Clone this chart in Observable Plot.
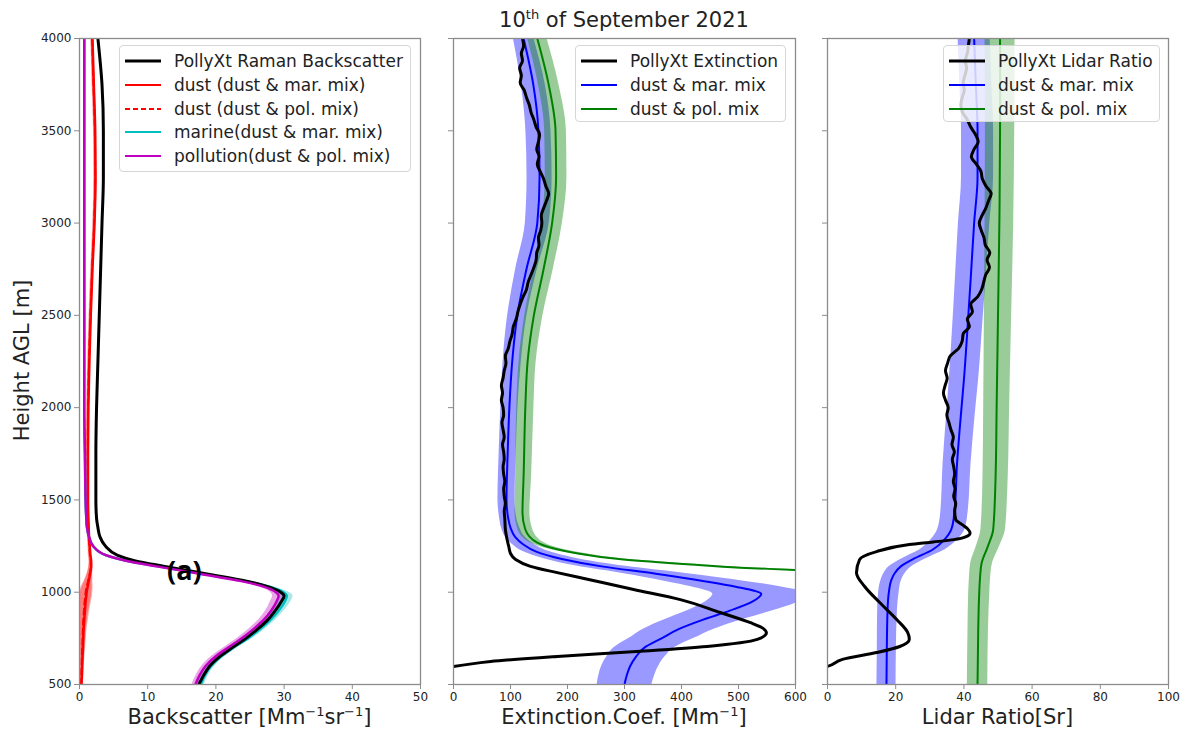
<!DOCTYPE html>
<html>
<head>
<meta charset="utf-8">
<script src="https://cdn.jsdelivr.net/npm/d3@7"></script>
<script src="https://cdn.jsdelivr.net/npm/@observablehq/plot@0.6"></script>
<style>
  html, body { margin: 0; padding: 0; background: #fff; }
  body { position: relative; width: 1186px; height: 731px; overflow: hidden; font-family: "DejaVu Sans", sans-serif; color: #222; }
  .panel { position: absolute; top: 0; }
  .panel svg { display: block; }
  .lbl { position: absolute; white-space: nowrap; text-align: center; color: #222; line-height: 21px; }
  .lbl sup { font-size: 13px; vertical-align: baseline; position: relative; top: -8px; line-height: 0; }
  .legend { position: absolute; border: 1px solid #d6d6d6; border-radius: 4px; background: rgba(255,255,255,0.8); box-sizing: border-box; }
  .legend .row { position: absolute; left: 0; height: 20px; display: flex; align-items: center; font-size: 17px; white-space: nowrap; }
  .legend svg { display: block; }
</style>
</head>
<body>
<div id="p1" class="panel" style="left:0;width:440px"></div>
<div id="p2" class="panel" style="left:440px;width:370px"></div>
<div id="p3" class="panel" style="left:810px;width:376px"></div>

<div class="lbl" style="left:453px;width:342px;top:10px;font-size:21px;">10<sup>th</sup> of September 2021</div>
<div class="lbl" style="left:-70px;top:350px;width:185px;font-size:21px;transform:rotate(-90deg);">Height AGL [m]</div>
<div class="lbl" style="left:79px;width:341px;top:707px;font-size:21px;">Backscatter [Mm<sup>−1</sup>sr<sup>−1</sup>]</div>
<div class="lbl" style="left:453px;width:342px;top:707px;font-size:21px;">Extinction.Coef. [Mm<sup>−1</sup>]</div>
<div class="lbl" style="left:827px;width:341px;top:707px;font-size:21px;">Lidar Ratio[Sr]</div>
<div class="lbl" style="left:167px;top:556px;font-size:27px;line-height:27px;font-weight:bold;font-family:'Open Sans',sans-serif;color:#000;">(a)</div>

<script>
// ---- Backscatter profiles (Mm-1 sr-1) ----
const bscHeights = [500, 550, 600, 650, 700, 750, 800, 850, 900, 950, 980, 1000, 1030, 1060, 1100, 1140, 1170, 1200, 1250, 1300, 1350, 1400, 1500, 1750, 2000, 2250, 2500, 2750, 3000, 3250, 3500, 3750, 4000];
const bscRaman     = [17.5, 18.2, 19.1, 20.5, 22.4, 24.4, 26.1, 27.6, 28.7, 29.6, 30.0, 29.5, 27.6, 24.5, 18.5, 12.5, 8.2, 5.6, 3.8, 3.0, 2.7, 2.5, 2.4, 2.4, 2.5, 2.7, 2.9, 3.1, 3.3, 3.5, 3.5, 3.3, 2.7];
const bscDustMar   = [0.3, 0.35, 0.4, 0.45, 0.5, 0.55, 0.6, 0.7, 0.8, 0.9, 1.0, 1.05, 1.2, 1.35, 1.55, 1.7, 1.7, 1.6, 1.5, 1.4, 1.35, 1.3, 1.25, 1.25, 1.3, 1.45, 1.65, 1.9, 2.2, 2.35, 2.3, 2.1, 1.9];
const bscDustPol   = [0.2, 0.25, 0.3, 0.35, 0.4, 0.45, 0.5, 0.55, 0.65, 0.75, 0.85, 0.9, 1.05, 1.25, 1.5, 1.65, 1.65, 1.55, 1.45, 1.35, 1.3, 1.25, 1.2, 1.2, 1.25, 1.4, 1.6, 1.85, 2.15, 2.3, 2.25, 2.05, 1.85];
const bscMarine    = [17.8, 18.4, 19.3, 20.7, 22.6, 24.7, 26.5, 28.0, 29.2, 30.1, 30.4, 29.9, 27.8, 24.3, 18.0, 11.5, 6.9, 3.9, 2.0, 1.4, 1.1, 1.0, 0.9, 0.8, 0.7, 0.7, 0.7, 0.7, 0.7, 0.7, 0.7, 0.7, 0.7];
const bscPollution = [17.0, 17.6, 18.5, 19.9, 21.8, 23.8, 25.5, 27.0, 28.1, 28.9, 29.2, 28.8, 27.0, 23.7, 17.6, 11.3, 6.8, 3.9, 2.0, 1.4, 1.1, 1.0, 0.9, 0.8, 0.7, 0.7, 0.7, 0.7, 0.7, 0.7, 0.7, 0.7, 0.7];
const bscDustErr   = [0.25, 0.3, 0.3, 0.35, 0.4, 0.45, 0.5, 0.6, 0.7, 0.85, 0.9, 0.9, 0.8, 0.6, 0.4, 0.3, 0.25, 0.25, 0.2, 0.2, 0.2, 0.2, 0.2, 0.2, 0.2, 0.2, 0.2, 0.2, 0.2, 0.2, 0.2, 0.2, 0.2];
const bscMixErr    = [0.5, 0.5, 0.55, 0.6, 0.6, 0.65, 0.7, 0.75, 0.8, 0.9, 0.9, 0.8, 0.7, 0.6, 0.5, 0.4, 0.3, 0.2, 0.1, 0.1, 0.1, 0.1, 0.1, 0.1, 0.1, 0.1, 0.1, 0.1, 0.1, 0.1, 0.1, 0.1, 0.1];

// ---- Extinction profiles (Mm-1) ----
const extMarHeights = [500, 550, 600, 650, 700, 750, 800, 850, 900, 950, 990, 1030, 1060, 1100, 1140, 1180, 1220, 1260, 1300, 1350, 1400, 1500, 1750, 2000, 2250, 2500, 2750, 3000, 3250, 3500, 3750, 4000];
const extDustMar    = [300, 304, 310, 320, 335, 365, 395, 437, 485, 525, 540, 495, 440, 355, 260, 190, 145, 122, 108, 100, 96, 93, 95, 98, 103, 112, 128, 147, 151, 149, 140, 123];
const extDustMarErr = [48, 49, 50, 51, 53, 57, 62, 68, 75, 82, 85, 78, 70, 56, 42, 30, 23, 19, 17, 16, 15, 15, 15, 15, 16, 17, 19, 21, 22, 22, 21, 18];
const extPolHeights = [1100, 1120, 1133, 1150, 1177, 1214, 1268, 1340, 1430, 1630, 2000, 2250, 2500, 2750, 3000, 3250, 3500, 3750, 4000];
const extDustPol    = [700, 600, 503, 416, 298, 211, 147, 126, 121, 123, 126, 130, 141, 158, 173, 180, 179, 167, 147];
const extDustPolErr = [12, 12, 12, 12, 12, 12, 12, 13, 13, 14, 15, 15, 16, 17, 18, 19, 19, 18, 17];
const extPollyHeights = [580, 598, 625, 652, 680, 706, 744, 780, 810, 835, 890, 960, 1015, 1070, 1106, 1140, 1177, 1210, 1247, 1300, 1340,
  1400, 1440, 1480, 1520, 1560, 1600, 1640, 1680, 1720, 1760, 1800, 1840, 1880, 1920, 1960, 2000, 2040, 2080, 2120, 2160,
  2200, 2240, 2280, 2320, 2360, 2400, 2440, 2480, 2520, 2560, 2600, 2640, 2680, 2720, 2760, 2800, 2840, 2880, 2920, 2960,
  3000, 3040, 3080, 3120, 3160, 3200, 3240, 3280, 3320, 3360, 3400, 3440, 3480, 3520, 3560, 3600, 3640, 3680, 3720, 3760,
  3800, 3840, 3880, 3920, 3960, 4000];
const extPolly = [-60, 0, 65, 182, 328, 445, 533, 549, 540, 521, 468, 398, 316, 235, 182, 135, 109, 100, 97, 93, 91,
  90, 89, 91, 89, 88, 90, 88, 87, 89, 88, 86, 89, 87, 85, 88, 87, 84, 86, 84, 87,
  89, 92, 91, 96, 99, 103, 105, 110, 113, 117, 122, 128, 131, 136, 141, 145, 146, 150, 149, 153,
  155, 154, 158, 163, 167, 162, 158, 152, 147, 150, 146, 149, 151, 145, 141, 136, 133, 128, 124, 117,
  119, 116, 121, 119, 123, 121];

// ---- Lidar ratio profiles (sr) ----
const lrMarHeights = [500, 700, 900, 1000, 1060, 1100, 1140, 1180, 1230, 1285, 1340, 1430, 1700, 2000, 2150, 2500, 2700, 3000, 3250, 3500, 3750, 4000];
const lrDustMar    = [17.3, 17.4, 17.6, 18.0, 18.6, 19.6, 21.5, 25.2, 30.8, 34.3, 36.3, 37.2, 38.0, 39.3, 40.0, 41.3, 42.0, 43.0, 44.0, 44.0, 43.5, 43.0];
const lrDustMarErr = [2.8, 2.8, 2.9, 3.0, 3.0, 3.1, 3.3, 3.5, 3.7, 3.9, 4.0, 4.0, 4.1, 4.2, 4.3, 4.4, 4.5, 4.6, 4.7, 4.7, 4.7, 4.7];
const lrPolHeights = [500, 800, 1000, 1070, 1158, 1247, 1340, 1630, 2000, 2500, 3000, 3500, 4000];
const lrDustPol    = [44.0, 44.2, 44.5, 44.7, 45.2, 47.0, 48.6, 49.3, 49.6, 50.0, 50.4, 50.6, 50.6];
const lrDustPolErr = [3.0, 3.0, 3.1, 3.1, 3.2, 3.4, 3.6, 3.7, 3.8, 4.0, 4.2, 4.3, 4.4];
const lrPollyHeights = [560, 598, 636, 673, 706, 745, 782, 852, 944, 1031, 1106, 1177, 1220, 1258, 1272, 1285, 1300, 1320, 1345, 1366, 1393,
  1440, 1480, 1520, 1560, 1600, 1640, 1680, 1720, 1760, 1800, 1840, 1880, 1920, 1960, 2000, 2040, 2080, 2120, 2160,
  2200, 2240, 2280, 2320, 2360, 2400, 2440, 2480, 2520, 2560, 2600, 2640, 2680, 2720, 2760, 2800, 2840, 2880, 2920, 2960,
  3000, 3040, 3080, 3120, 3160, 3200, 3240, 3280, 3320, 3360, 3400, 3440, 3480, 3520, 3560, 3600, 3640, 3680, 3720, 3760,
  3800, 3840, 3880, 3920, 3960, 4000];
const lrPolly = [-10, 0, 4.4, 14.4, 21.2, 24.0, 23.5, 20.3, 15.3, 10.9, 8.5, 9.4, 14.4, 24.0, 31.0, 37.0, 40.5, 41.8, 41.0, 39.5, 37.6,
  37.3, 37.6, 37.0, 37.4, 36.9, 37.3, 37.0, 36.6, 37.2, 36.5, 36.9, 36.2, 35.6, 35.0, 35.4, 34.6, 34.0, 34.5, 35.1,
  34.6, 35.2, 36.0, 38.4, 39.5, 39.8, 41.6, 41.0, 42.5, 42.0, 44.0, 45.2, 45.8, 46.4, 47.5, 46.8, 47.6, 46.3, 45.9, 45.1,
  44.5, 45.3, 46.4, 47.2, 48.0, 46.5, 45.4, 45.0, 43.6, 42.2, 43.0, 44.2, 43.4, 42.0, 41.0, 39.6, 39.1, 39.5, 40.1, 39.8,
  40.3, 40.8, 40.4, 41.0, 41.3, 41.6];

// ---- Axes ----
const heightTicks = [500, 1000, 1500, 2000, 2500, 3000, 3500, 4000];
const bscTicks = [0, 10, 20, 30, 40, 50];
const extTicks = [0, 100, 200, 300, 400, 500, 600];
const lrTicks = [0, 20, 40, 60, 80, 100];

// Build {h, v, lo, hi} rows from parallel arrays
function profile(heights, values, err) {
  return heights.map((h, i) => ({
    h, v: values[i],
    lo: err ? values[i] - err[i] : null,
    hi: err ? values[i] + err[i] : null
  }));
}

const band = (data, color, opacity) =>
  Plot.areaX(data, {y: "h", x1: "lo", x2: "hi", fill: color, fillOpacity: opacity, curve: "monotone-y", clip: true});
const line = (data, color, width, extra = {}) =>
  Plot.line(data, {x: "v", y: "h", stroke: color, strokeWidth: width, curve: "monotone-y", clip: true, ...extra});

function panel({xDomain, xTicks, width, marginLeft, marginRight, showY, marks}) {
  return Plot.plot({
    width, height: 731,
    marginTop: 38, marginBottom: 47, marginLeft, marginRight,
    x: {domain: xDomain},
    y: {domain: [500, 4000]},
    style: {fontFamily: "DejaVu Sans, sans-serif", fontSize: "12px", color: "#222", background: "transparent", overflow: "visible"},
    marks: [
      ...marks,
      Plot.frame({stroke: "#8c8c8c", strokeWidth: 1.3}),
      Plot.axisX({ticks: xTicks, tickSize: 5, tickPadding: 3, label: null, stroke: "#8c8c8c", fill: "#222", tickFormat: d => String(d)}),
      Plot.axisY({ticks: heightTicks, tickSize: 5, tickPadding: 3, label: null, stroke: "#8c8c8c", fill: "#222",
                  tickFormat: showY ? d => String(d) : () => ""})
    ]
  });
}

// Panel 1: backscatter
const pRaman = profile(bscHeights, bscRaman);
const pDustMar = profile(bscHeights, bscDustMar, bscDustErr);
const pDustPol = profile(bscHeights, bscDustPol, bscDustErr);
const pMarine = profile(bscHeights, bscMarine, bscMixErr);
const pPollution = profile(bscHeights, bscPollution, bscMixErr);

document.getElementById("p1").append(panel({
  xDomain: [0, 50], xTicks: bscTicks, width: 440, marginLeft: 79, marginRight: 20, showY: true,
  marks: [
    band(pDustMar, "#ff0000", 0.3),
    band(pDustPol, "#ff0000", 0.3),
    band(pMarine, "#00bfbf", 0.35),
    band(pPollution, "#bf00bf", 0.35),
    line(pMarine, "#00bfbf", 2.5),
    line(pRaman, "#000", 3),
    line(pDustMar, "#ff0000", 2.5),
    line(pDustPol, "#ff0000", 2, {strokeDasharray: "6,4"}),
    line(pPollution, "#bf00bf", 2.5)
  ]
}));

// Panel 2: extinction coefficient
const eMar = profile(extMarHeights, extDustMar, extDustMarErr);
const ePol = profile(extPolHeights, extDustPol, extDustPolErr);
const ePolly = profile(extPollyHeights, extPolly);

document.getElementById("p2").append(panel({
  xDomain: [0, 600], xTicks: extTicks, width: 370, marginLeft: 13, marginRight: 15, showY: false,
  marks: [
    band(eMar, "#0000ff", 0.4),
    band(ePol, "#008000", 0.4),
    line(ePol, "#008000", 2),
    line(eMar, "#0000ff", 2),
    line(ePolly, "#000", 3)
  ]
}));

// Panel 3: lidar ratio
const lMar = profile(lrMarHeights, lrDustMar, lrDustMarErr);
const lPol = profile(lrPolHeights, lrDustPol, lrDustPolErr);
const lPolly = profile(lrPollyHeights, lrPolly);

document.getElementById("p3").append(panel({
  xDomain: [0, 100], xTicks: lrTicks, width: 376, marginLeft: 17, marginRight: 18, showY: false,
  marks: [
    band(lMar, "#0000ff", 0.4),
    band(lPol, "#008000", 0.4),
    line(lMar, "#0000ff", 2),
    line(lPol, "#008000", 2),
    line(lPolly, "#000", 3)
  ]
}));

// Legends
function legend({left, top, width, height, items}) {
  const box = document.createElement("div");
  box.className = "legend";
  Object.assign(box.style, {left: left + "px", top: top + "px", width: width + "px", height: height + "px"});
  items.forEach((it, i) => {
    const row = document.createElement("div");
    row.className = "row";
    row.style.top = (5 + i * 23.8) + "px";
    row.style.left = "4px";
    const ns = "http://www.w3.org/2000/svg";
    const sw = document.createElementNS(ns, "svg");
    sw.setAttribute("width", 38); sw.setAttribute("height", 20);
    sw.style.marginRight = "12px";
    const l = document.createElementNS(ns, "line");
    l.setAttribute("x1", 1); l.setAttribute("x2", 37); l.setAttribute("y1", 10); l.setAttribute("y2", 10);
    l.setAttribute("stroke", it.color); l.setAttribute("stroke-width", it.width);
    if (it.dash) l.setAttribute("stroke-dasharray", it.dash);
    sw.append(l);
    const t = document.createElement("span");
    t.textContent = it.label;
    row.append(sw, t);
    box.append(row);
  });
  document.body.append(box);
}

legend({left: 119, top: 45, width: 292, height: 127, items: [
  {label: "PollyXt Raman Backscatter", color: "#000", width: 3},
  {label: "dust (dust & mar. mix)", color: "#ff0000", width: 2},
  {label: "dust (dust & pol. mix)", color: "#ff0000", width: 2, dash: "5,3"},
  {label: "marine(dust & mar. mix)", color: "#00bfbf", width: 2},
  {label: "pollution(dust & pol. mix)", color: "#bf00bf", width: 2}
]});
legend({left: 575, top: 45, width: 211, height: 77, items: [
  {label: "PollyXt Extinction", color: "#000", width: 3},
  {label: "dust & mar. mix", color: "#0000ff", width: 2},
  {label: "dust & pol. mix", color: "#008000", width: 2}
]});
legend({left: 943, top: 45, width: 217, height: 77, items: [
  {label: "PollyXt Lidar Ratio", color: "#000", width: 3},
  {label: "dust & mar. mix", color: "#0000ff", width: 2},
  {label: "dust & pol. mix", color: "#008000", width: 2}
]});
</script>
</body>
</html>
